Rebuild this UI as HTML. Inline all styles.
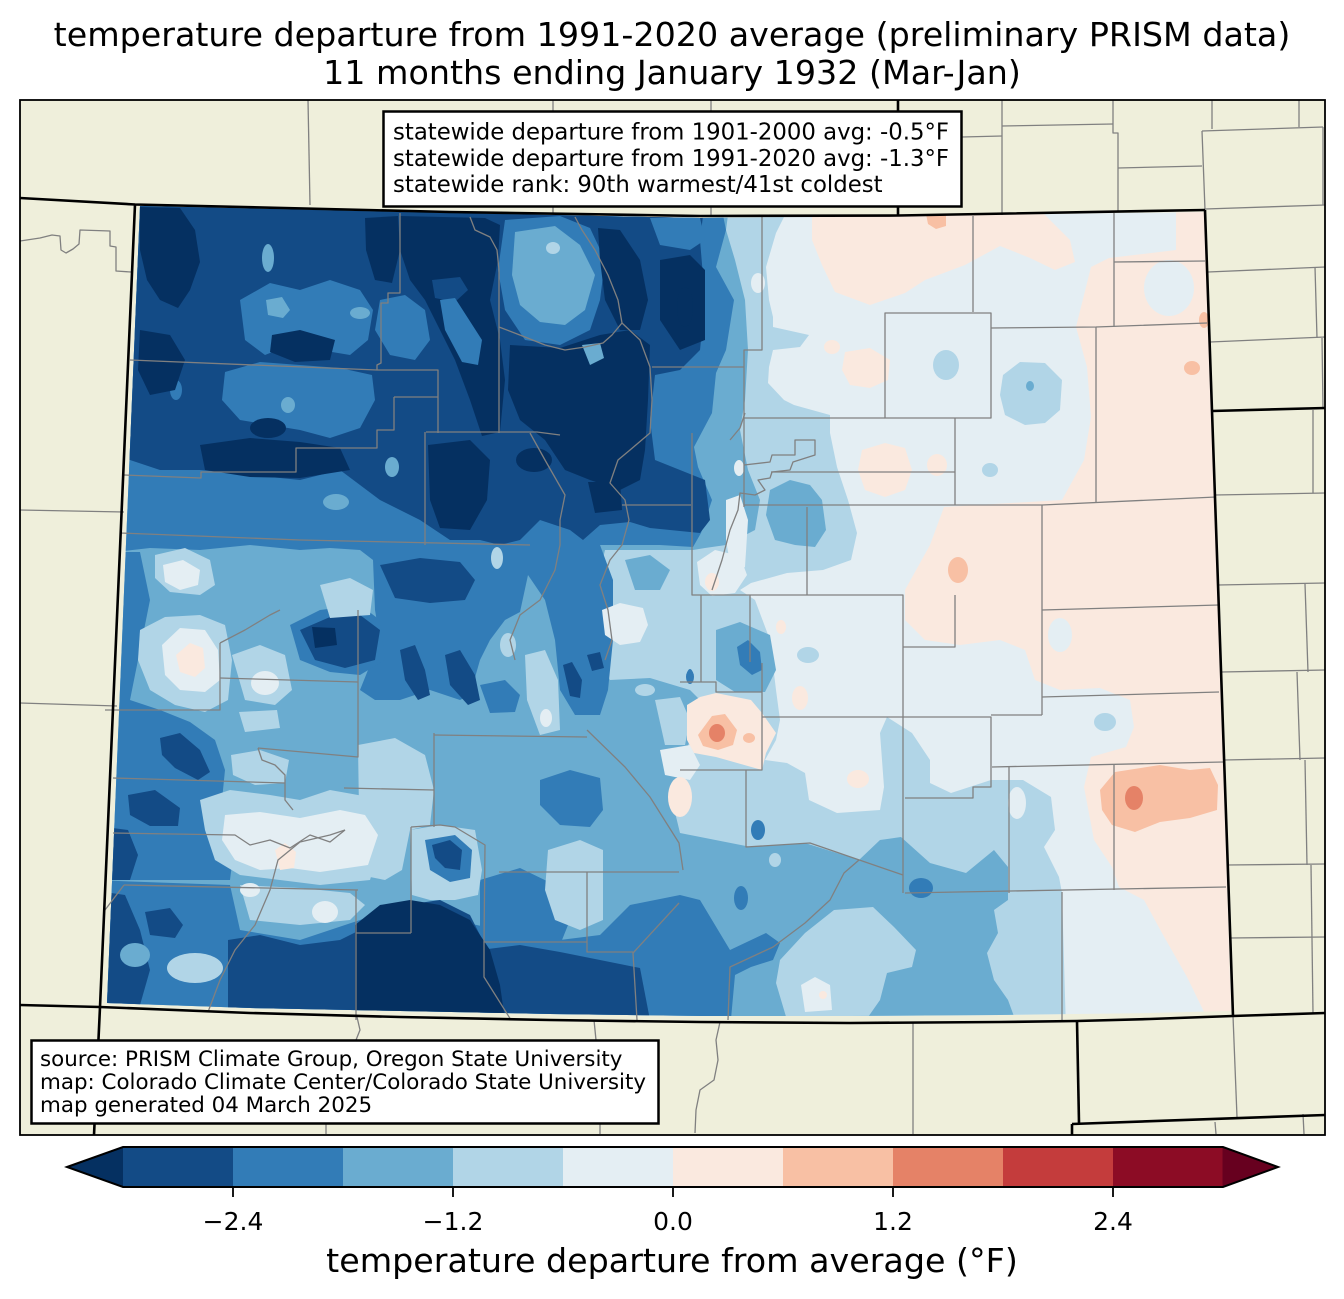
<!DOCTYPE html>
<html><head><meta charset="utf-8"><style>html,body{margin:0;padding:0;background:#fff}svg{display:block}</style></head>
<body>
<svg xmlns="http://www.w3.org/2000/svg" width="1344" height="1299" viewBox="0 0 1344 1299" font-family="'DejaVu Sans','Liberation Sans',sans-serif">
<defs>
<clipPath id="fr"><rect x="20" y="100" width="1305" height="1035"/></clipPath>
<clipPath id="co"><polygon points="140,206 450,213 700,218 900,216 1205,212 1212,412 1231,1011 1150,1013 1000,1015 850,1016 700,1016 550,1014 400,1011 250,1008 107,1003"/></clipPath>
</defs>
<rect width="1344" height="1299" fill="#fff"/>
<text x="672" y="46" font-size="33.3" text-anchor="middle">temperature departure from 1991-2020 average (preliminary PRISM data)</text>
<text x="672" y="84" font-size="33.3" text-anchor="middle">11 months ending January 1932 (Mar-Jan)</text>

<g clip-path="url(#fr)">
<rect x="20" y="100" width="1305" height="1035" fill="#efefdb"/>
<g clip-path="url(#co)">
<rect x="80" y="180" width="1200" height="860" fill="#e4eef3"/>
<!-- K4 -->
<polygon fill="#b1d5e7" points="90,190 784,200 784,217 776,233 766,267 769,300 773,317 773,327 809,335 800,347 773,350 769,367 768,383 784,400 794,405 830,415 830,433 837,467 848,500 857,533 851,560 823,570 787,573 751,583 740,590 755,600 770,640 776,690 780,720 776,740 765,760 787,763 805,773 809,800 837,813 880,810 884,787 880,733 887,717 912,733 930,760 930,783 951,793 991,780 1023,780 1051,797 1055,830 1044,847 1059,877 1062,893 1066,1030 90,1030"/>
<!-- K3 -->
<polygon fill="#6aacd0" points="90,190 730,200 726,230 735,260 745,300 748,350 745,400 740,430 748,470 760,500 755,530 726,545 705,548 693,550 660,550 630,550 605,550 598,580 595,620 597,660 610,680 650,678 690,690 700,700 690,740 680,770 672,800 680,833 751,847 805,843 859,860 880,840 901,837 930,863 966,873 994,850 1008,867 1008,900 994,910 998,933 987,953 994,980 1008,1000 1019,1030 90,1030"/>
<!-- K2 -->
<g fill="#327cb7">
<polygon points="90,190 720,200 726,230 716,267 734,300 726,350 716,373 712,413 694,447 698,467 712,500 701,533 693,547 660,545 630,545 600,545 613,580 613,640 608,690 600,715 575,715 560,690 555,640 545,600 528,575 520,612 505,620 490,640 480,660 470,695 460,700 430,690 400,700 375,700 360,690 380,640 375,610 373,560 360,550 330,548 300,550 250,545 200,550 150,548 115,552 90,552"/>
<polygon points="90,552 140,552 150,600 140,650 130,700 160,710 190,722 215,740 225,770 222,800 210,820 235,840 230,880 90,880"/>
<polygon points="90,880 230,885 240,930 300,940 360,920 400,905 430,915 500,930 560,940 600,935 630,905 680,895 700,900 730,950 766,933 780,943 773,960 751,967 735,975 730,1030 90,1030"/>
<polygon points="480,880 520,868 555,885 570,920 560,945 480,945"/>
<polygon points="540,780 570,770 600,778 603,810 590,827 560,825 540,805"/>
<polygon points="290,625 320,610 360,605 380,620 385,660 360,675 330,672 300,660"/>
<polygon points="480,685 505,680 520,695 515,712 490,713"/>
</g>
<!-- K1 -->
<g fill="#134b86">
<polygon points="90,190 705,200 700,240 705,300 700,350 680,370 655,375 650,420 655,460 680,470 705,480 710,520 700,533 650,528 630,522 600,525 583,540 570,530 540,520 520,540 500,545 480,540 450,540 420,520 380,500 340,470 300,480 250,475 200,470 160,470 130,460 90,460"/>
<polygon points="380,565 420,558 460,562 475,580 465,600 430,603 395,598"/>
<polygon points="300,630 330,617 360,615 380,630 375,660 345,668 315,660"/>
<polygon points="160,738 180,733 200,750 210,772 198,780 175,768 162,755"/>
<polygon points="128,795 155,790 180,808 178,826 150,826 130,815"/>
<polygon points="90,825 128,830 138,855 130,880 90,880"/>
<polygon points="90,890 125,895 140,930 150,970 140,1005 90,1010"/>
<polygon points="145,912 170,908 183,925 175,938 150,935"/>
<polygon points="228,940 260,935 300,945 340,940 360,930 380,1020 228,1020"/>
<polygon points="480,950 520,945 560,952 600,960 640,968 650,1020 480,1020"/>
<polygon points="405,905 440,900 470,915 485,945 420,945"/>
<polygon points="400,650 415,645 425,670 430,695 418,700 405,680"/>
<polygon points="445,655 460,650 475,675 480,700 468,705 450,685"/>
<polygon points="563,665 572,662 582,680 580,698 570,696"/>
<polygon points="587,655 600,652 604,668 592,671"/>
</g>
<!-- NW K2 lightening -->
<g fill="#327cb7">
<polygon points="505,220 560,216 590,228 605,260 600,300 590,330 560,345 525,340 505,310 498,270"/>
<polygon points="240,300 270,283 300,290 330,280 360,290 373,310 368,340 350,355 320,350 290,345 265,355 245,340"/>
<polygon points="225,372 260,362 300,365 340,368 372,375 375,400 360,428 330,438 300,430 270,425 240,420 222,400"/>
<polygon points="380,300 405,295 425,310 430,340 415,360 390,355 375,330"/>
<polygon points="650,218 700,218 705,240 690,250 660,245"/>
<ellipse cx="176" cy="390" rx="6" ry="10"/>
</g>
<!-- K0 -->
<g fill="#053061">
<polygon points="140,207 180,208 195,230 200,262 190,290 178,308 160,300 147,280 140,250"/>
<polygon points="365,218 398,216 400,250 392,283 375,280 366,250"/>
<polygon points="400,216 485,218 500,225 498,260 490,300 500,340 505,380 500,432 482,436 470,400 455,360 440,330 425,300 410,280 400,250"/>
<polygon points="510,345 560,348 600,335 630,330 650,345 648,400 645,450 640,480 620,490 590,480 565,470 545,440 520,420 508,390"/>
<polygon points="598,228 620,230 640,260 648,300 640,330 620,330 605,300 600,260"/>
<polygon points="660,260 690,255 705,270 705,340 680,350 660,320"/>
<polygon points="200,445 250,438 300,442 340,448 350,470 300,478 250,477 205,470"/>
<polygon points="272,335 300,330 335,340 330,360 295,362 270,352"/>
<polygon points="428,445 470,440 490,460 487,500 470,530 440,528 430,500"/>
<polygon points="588,482 620,482 622,510 595,513"/>
<ellipse cx="534" cy="460" rx="18" ry="12"/>
<polygon points="355,925 380,905 410,900 440,905 470,920 490,950 500,985 505,1020 355,1020"/>
<polygon points="312,627 335,628 337,645 315,648"/>
<ellipse cx="685" cy="307" rx="8" ry="20"/>
<polygon points="140,330 170,335 185,360 175,390 150,395 138,370"/>
<ellipse cx="268" cy="428" rx="18" ry="10"/>
</g>
<polygon fill="#134b86" points="432,280 460,277 468,290 455,302 435,298"/>
<polygon fill="#327cb7" points="440,300 455,298 482,340 478,365 462,362 445,330"/>
<!-- K3 patches -->
<g fill="#6aacd0">
<polygon points="515,232 555,226 580,245 595,275 585,310 565,325 540,322 520,305 512,275"/>
<polygon points="582,345 600,343 604,358 590,365"/>
<ellipse cx="268" cy="258" rx="6" ry="14"/>
<polygon points="266,300 282,297 290,310 283,318 268,315"/>
<ellipse cx="360" cy="313" rx="10" ry="6"/>
<ellipse cx="288" cy="405" rx="7" ry="8"/>
<ellipse cx="392" cy="467" rx="7" ry="10"/>
<ellipse cx="336" cy="502" rx="13" ry="8"/>
<ellipse cx="135" cy="955" rx="15" ry="12"/>
<polygon points="770,490 790,480 810,485 822,500 826,530 815,547 795,545 775,540 766,515"/>
<polygon points="716,630 740,622 770,635 776,670 765,692 735,692 716,680"/>
<polygon points="625,560 650,555 670,570 660,590 635,590"/>
</g>
<!-- K4 patches -->
<g fill="#b1d5e7">
<ellipse cx="553" cy="248" rx="7" ry="6"/>
<ellipse cx="497" cy="558" rx="6" ry="11"/>
<ellipse cx="508" cy="645" rx="8" ry="12"/>
<polygon points="525,655 545,650 558,680 560,730 540,735 527,700"/>
<polygon points="155,555 185,548 210,560 215,585 200,595 170,592 155,578"/>
<polygon points="320,585 350,578 373,590 370,615 330,618"/>
<polygon points="140,630 165,617 200,615 225,625 232,660 228,700 205,712 175,705 150,690 138,660"/>
<polygon points="232,655 260,645 285,655 292,690 275,705 245,700"/>
<polygon points="239,712 277,710 280,728 245,732"/>
<polygon points="231,755 260,750 289,760 285,783 255,785 233,775"/>
<polygon points="200,800 230,790 270,795 300,800 330,790 358,795 380,800 385,830 370,880 320,885 280,880 240,875 215,860 205,830"/>
<polygon points="358,745 395,738 425,755 434,790 430,825 410,830 402,870 385,880 360,875"/>
<polygon points="410,830 440,825 475,830 482,870 478,895 455,900 430,900 412,895"/>
<polygon points="548,850 580,840 603,850 603,920 580,930 555,920 545,890"/>
<ellipse cx="195" cy="968" rx="28" ry="15"/>
<polygon points="240,885 300,888 350,893 365,905 350,920 300,925 250,920"/>
<polygon points="780,960 805,933 834,910 873,907 894,927 916,950 912,967 887,973 880,1000 866,1020 787,1020 776,983"/>
<ellipse cx="775" cy="860" rx="6" ry="7"/>
<ellipse cx="946" cy="365" rx="13" ry="15"/>
<polygon points="1003,375 1020,362 1045,363 1062,380 1060,410 1045,423 1025,425 1005,415 1000,395"/>
<ellipse cx="990" cy="470" rx="8" ry="7"/>
<ellipse cx="1105" cy="722" rx="11" ry="9"/>
<ellipse cx="808" cy="655" rx="11" ry="8"/>
<polygon points="655,700 680,697 690,720 685,745 665,745"/>
<ellipse cx="645" cy="690" rx="10" ry="6"/>
</g>
<ellipse cx="1030" cy="386" rx="4" ry="5" fill="#6aacd0"/>
<!-- box swirl & SE blobs -->
<polygon fill="#327cb7" points="425,840 455,835 472,850 470,878 450,882 430,870"/>
<polygon fill="#134b86" points="432,845 450,840 462,850 460,870 445,868 435,858"/>
<g fill="#327cb7">
<ellipse cx="921" cy="888" rx="12" ry="10"/>
<ellipse cx="741" cy="898" rx="7" ry="12"/>
<ellipse cx="758" cy="830" rx="7" ry="10"/>
<polygon points="737,647 748,640 760,652 762,670 752,675 740,665"/>
<ellipse cx="690" cy="677" rx="4" ry="7"/>
<ellipse cx="690" cy="675" rx="3" ry="6"/>
</g>
<!-- K5 patches -->
<g fill="#e4eef3">
<polygon points="162,645 180,628 205,630 218,650 220,680 205,692 180,690 165,675"/>
<ellipse cx="265" cy="683" rx="14" ry="12"/>
<polygon points="163,565 183,560 200,570 198,585 180,590 165,582"/>
<polygon points="225,815 260,812 300,818 340,810 365,815 378,835 368,865 320,872 290,868 260,870 235,860 222,840"/>
<ellipse cx="325" cy="912" rx="13" ry="11"/>
<ellipse cx="250" cy="890" rx="10" ry="7"/>
<ellipse cx="546" cy="718" rx="6" ry="9"/>
<polygon points="726,500 740,495 748,520 745,567 732,575 726,540"/>
<polygon points="697,562 715,550 740,556 747,575 735,593 712,596 700,585"/>
<polygon points="602,610 620,603 643,608 648,625 640,642 620,645 605,635"/>
<ellipse cx="739" cy="468" rx="5" ry="8"/>
<ellipse cx="758" cy="283" rx="7" ry="10"/>
<polygon points="660,750 690,745 700,765 690,780 665,775"/>
<polygon points="801,985 815,977 830,985 832,1010 805,1012"/>
<ellipse cx="1017" cy="803" rx="9" ry="16"/>
</g>
<!-- R1 -->
<g fill="#fae9df">
<polygon points="812,210 1040,210 1070,240 1075,262 1055,270 1030,258 1000,246 965,265 925,280 905,293 870,305 835,292 822,265 812,240"/>
<polygon points="1176,205 1215,205 1222,420 1240,1020 1208,1020 1187,977 1162,933 1144,900 1119,887 1112,867 1094,840 1084,787 1091,757 1126,747 1134,727 1130,700 1100,688 1060,690 1035,680 1025,650 1000,640 960,645 925,640 905,620 905,590 930,545 944,507 1062,500 1084,460 1091,417 1087,367 1076,327 1091,267 1109,258 1176,250"/>
<polygon points="845,352 870,348 890,360 888,380 870,388 850,385 842,370"/>
<ellipse cx="832" cy="347" rx="8" ry="7"/>
<polygon points="862,450 885,443 905,448 912,470 905,490 885,497 865,490 858,470"/>
<ellipse cx="937" cy="465" rx="10" ry="11"/>
<ellipse cx="781" cy="627" rx="5" ry="7"/>
<ellipse cx="800" cy="698" rx="8" ry="12"/>
<ellipse cx="858" cy="779" rx="11" ry="9"/>
<polygon points="687,705 700,697 716,693 751,700 762,713 776,733 766,753 762,770 716,757 694,753 687,740"/>
<ellipse cx="680" cy="797" rx="12" ry="20"/>
<polygon points="176,655 190,643 203,648 205,668 195,677 180,672"/>
<polygon points="275,850 285,843 296,852 294,868 280,870"/>
<ellipse cx="823" cy="995" rx="4" ry="4"/>
<ellipse cx="712" cy="582" rx="7" ry="9"/>
</g>
<ellipse cx="1169" cy="288" rx="25" ry="28" fill="#e4eef3"/>
<ellipse cx="1060" cy="635" rx="12" ry="17" fill="#e4eef3"/>
<!-- R2 -->
<g fill="#f8c0a4">
<polygon points="926,214 946,214 946,226 936,229 928,224"/>
<ellipse cx="1192" cy="368" rx="8" ry="7"/>
<ellipse cx="1204" cy="320" rx="5" ry="8"/>
<ellipse cx="958" cy="570" rx="10" ry="13"/>
<polygon points="1100,790 1115,772 1160,765 1190,770 1210,768 1218,785 1217,810 1190,818 1160,822 1135,832 1112,825 1102,810"/>
<polygon points="698,735 712,716 725,714 737,730 733,745 718,750 703,746"/>
<ellipse cx="749" cy="738" rx="6" ry="5"/>
</g>
<g fill="#e58267">
<ellipse cx="1134" cy="798" rx="9" ry="12"/>
<ellipse cx="717" cy="733" rx="8" ry="9"/>
</g>
</g>

<!-- county lines -->
<g fill="none" stroke="#808080" stroke-width="1.3" stroke-linejoin="round">
<polyline points="762,216 762,350 744,350 744,507"/>
<polyline points="652,367 744,367"/>
<polyline points="973,216 973,312"/>
<polygon points="885,313 991,313 991,418 885,418"/>
<polyline points="991,328 1096,327 1207,323"/>
<polyline points="1114,213 1114,327"/>
<polyline points="1114,262 1205,261"/>
<polyline points="1096,327 1096,502"/>
<polyline points="744,418 885,418"/>
<polyline points="955,418 955,505"/>
<polyline points="744,505 1042,505 1216,497"/>
<polyline points="771,472 955,472"/>
<polyline points="1042,505 1042,715"/>
<polyline points="1042,610 1219,605"/>
<polyline points="807,507 807,595"/>
<polyline points="692,433 692,595 903,595 903,893"/>
<polyline points="750,595 750,662"/>
<polyline points="903,647 955,647 955,595"/>
<polyline points="762,663 762,770 680,770"/>
<polyline points="680,682 716,682 716,692 762,692"/>
<polyline points="701,595 701,682"/>
<polyline points="762,717 991,717 991,787 973,787 973,798 905,798"/>
<polyline points="991,715 1042,715"/>
<polyline points="1042,697 1219,692"/>
<polyline points="992,767 1223,762"/>
<polyline points="1009,767 1009,893"/>
<polyline points="1114,765 1114,890"/>
<polyline points="905,893 1226,887"/>
<polyline points="1062,892 1062,1020"/>
<polyline points="746,770 746,847 810,843 903,875"/>
<polyline points="859,860 844,873 830,900 805,923 773,947 730,967 728,1020"/>
<polyline points="730,440 740,428 745,413"/>
<polyline points="744,465 770,462 772,455 795,455 795,440 815,440 815,455 793,462 790,470 772,472 770,478 758,480 765,490 755,495 740,493 738,510 730,530 722,560 712,590"/>
<polyline points="400,213 400,293 388,293 388,303 381,303 381,363 377,365 377,370"/>
<polyline points="130,360 377,370 438,370 438,433"/>
<polyline points="394,397 438,397"/>
<polyline points="394,397 394,430 377,430 377,448 296,448 296,472 201,472 201,478 124,475"/>
<polyline points="470,217 475,230 490,237 497,250 499,270 499,433"/>
<polyline points="499,327 525,337 545,345 565,350 585,347 603,343 612,335 622,323 618,300 608,275 595,250 582,230 575,217"/>
<polyline points="622,323 640,340 650,367 652,400 650,433 630,450 618,460 610,483 625,500 629,520 622,545 610,560 600,585 608,610 612,640 605,660"/>
<polyline points="426,432 537,432 560,435"/>
<polyline points="425,432 425,545"/>
<polyline points="530,433 545,460 565,495 560,520 560,545 555,570 540,600 520,615 510,640 515,660"/>
<polyline points="120,533 300,540 530,545"/>
<polyline points="622,505 691,505"/>
<polyline points="220,678 358,682"/>
<polyline points="220,643 220,710 105,710"/>
<polyline points="220,643 245,630 270,615 280,610"/>
<polyline points="358,610 358,757 258,748"/>
<polyline points="258,748 262,760 275,765 285,775 285,800 293,810"/>
<polyline points="113,778 285,783"/>
<polyline points="113,833 235,835 250,845 270,840 290,848 310,835 330,842 345,830"/>
<polyline points="124,885 358,890"/>
<polyline points="124,885 105,910"/>
<polyline points="356,890 356,1020"/>
<polyline points="356,933 411,933"/>
<polyline points="411,827 440,825 455,827 485,845 484,942 587,942"/>
<polyline points="411,827 411,933"/>
<polyline points="344,788 434,790"/>
<polyline points="434,733 434,827"/>
<polyline points="434,735 587,737"/>
<polyline points="587,730 625,767 650,797 679,843 683,870"/>
<polyline points="499,872 679,872"/>
<polyline points="587,872 587,952 633,952"/>
<polyline points="484,942 484,977 511,1020"/>
<polyline points="679,903 633,953 637,1020"/>
<polyline points="208,1012 220,980 235,950 255,925 270,890 278,860 300,842 330,835 345,830"/>
<!-- neighbours -->
<polyline points="20,241 40,238 52,235 60,236 61,250 66,253 73,249 79,244 80,230 110,231 110,246 116,247 116,271 131,272"/>
<polyline points="20,510 124,512"/>
<polyline points="20,703 117,706"/>
<polyline points="308,100 310,205"/>
<polyline points="553,100 553,213"/>
<polyline points="711,100 711,216"/>
<polyline points="1002,100 1002,215"/>
<polyline points="962,137 1002,136"/>
<polyline points="1002,126 1113,124"/>
<polyline points="1113,100 1113,133 1118,133 1118,212"/>
<polyline points="1118,168 1202,166"/>
<polyline points="1212,100 1212,129"/>
<polyline points="1202,131 1323,127"/>
<polyline points="1202,131 1205,210"/>
<polyline points="1299,100 1299,127"/>
<polyline points="1323,127 1323,205"/>
<polyline points="1205,209 1325,205"/>
<polyline points="1208,272 1325,267"/>
<polyline points="1315,267 1317,338"/>
<polyline points="1210,342 1325,337"/>
<polyline points="1322,338 1323,408"/>
<polyline points="1215,495 1325,493"/>
<polyline points="1313,410 1313,493"/>
<polyline points="1218,585 1325,583"/>
<polyline points="1305,584 1308,672"/>
<polyline points="1221,672 1325,670"/>
<polyline points="1297,672 1300,760"/>
<polyline points="1224,760 1325,758"/>
<polyline points="1305,760 1307,865"/>
<polyline points="1227,865 1325,864"/>
<polyline points="1311,865 1313,1013"/>
<polyline points="1229,938 1325,937"/>
<polyline points="913,1023 913,1134"/>
<polyline points="1233,1016 1237,1117"/>
<polyline points="1215,1122 1216,1134"/>
<polyline points="1303,1114 1304,1134"/>
<polyline points="357,1017 360,1030 356,1040"/>
<polyline points="594,1020 596,1040"/>
<polyline points="720,1022 716,1040 718,1060 714,1080 700,1090 696,1110 695,1133"/>
<polyline points="326,1107 326,1134"/>
<polyline points="600,1107 600,1134"/>
</g>
<!-- state lines -->
<g fill="none" stroke="#000" stroke-width="2.6" stroke-linejoin="round">
<polyline points="20,198 135,204.5 450,212 700,216 898,215.5 1205,210"/>
<polyline points="898,100 898,215.5"/>
<polyline points="1205,210 1212,411 1233,1016"/>
<polyline points="1212,411 1325,408"/>
<polyline points="135,204.5 100,1007 94,1135"/>
<polyline points="20,1005 100,1007 250,1013 400,1017 550,1020 700,1022 850,1023 1000,1022 1077,1021 1150,1019 1233,1016 1325,1013"/>
<polyline points="1077,1021 1079,1123"/>
<polyline points="1072,1124 1325,1115"/>
<polyline points="1072,1124 1072,1135"/>
</g>
</g>
<rect x="20" y="100" width="1305" height="1035" fill="none" stroke="#000" stroke-width="1.8"/>

<!-- stats box -->
<rect x="383.5" y="111.5" width="578" height="95" fill="#fff" stroke="#000" stroke-width="2.5"/>
<g font-size="22.8">
<text x="393" y="139.5">statewide departure from 1901-2000 avg: -0.5°F</text>
<text x="393" y="165.8">statewide departure from 1991-2020 avg: -1.3°F</text>
<text x="393" y="192">statewide rank: 90th warmest/41st coldest</text>
</g>
<!-- source box -->
<rect x="31.5" y="1040.5" width="627" height="83" fill="#fff" stroke="#000" stroke-width="2.5"/>
<g font-size="21.4">
<text x="40" y="1066">source: PRISM Climate Group, Oregon State University</text>
<text x="40" y="1089">map: Colorado Climate Center/Colorado State University</text>
<text x="40" y="1112">map generated 04 March 2025</text>
</g>

<!-- colorbar -->
<polygon points="67,1167 123.5,1147 123.5,1187" fill="#053061"/>
<rect x="123" y="1147" width="110.5" height="40" fill="#134b86"/>
<rect x="233" y="1147" width="110.5" height="40" fill="#327cb7"/>
<rect x="343" y="1147" width="110.5" height="40" fill="#6aacd0"/>
<rect x="453" y="1147" width="110.5" height="40" fill="#b1d5e7"/>
<rect x="563" y="1147" width="110.5" height="40" fill="#e4eef3"/>
<rect x="673" y="1147" width="110.5" height="40" fill="#fae9df"/>
<rect x="783" y="1147" width="110.5" height="40" fill="#f8c0a4"/>
<rect x="893" y="1147" width="110.5" height="40" fill="#e58267"/>
<rect x="1003" y="1147" width="110.5" height="40" fill="#c43c3c"/>
<rect x="1113" y="1147" width="110" height="40" fill="#8c0c25"/>
<polygon points="1222.5,1147 1278,1167 1222.5,1187" fill="#67001f"/>
<polygon points="67,1167 123,1147 1223,1147 1278,1167 1223,1187 123,1187" fill="none" stroke="#000" stroke-width="2"/>
<g stroke="#000" stroke-width="1.8">
<line x1="233" y1="1187" x2="233" y2="1197"/>
<line x1="453" y1="1187" x2="453" y2="1197"/>
<line x1="673" y1="1187" x2="673" y2="1197"/>
<line x1="893" y1="1187" x2="893" y2="1197"/>
<line x1="1113" y1="1187" x2="1113" y2="1197"/>
</g>
<g font-size="25" text-anchor="middle">
<text x="233" y="1230">−2.4</text>
<text x="453" y="1230">−1.2</text>
<text x="673" y="1230">0.0</text>
<text x="893" y="1230">1.2</text>
<text x="1113" y="1230">2.4</text>
</g>
<text x="672" y="1272" font-size="33.3" text-anchor="middle">temperature departure from average (°F)</text>
</svg>
</body></html>
